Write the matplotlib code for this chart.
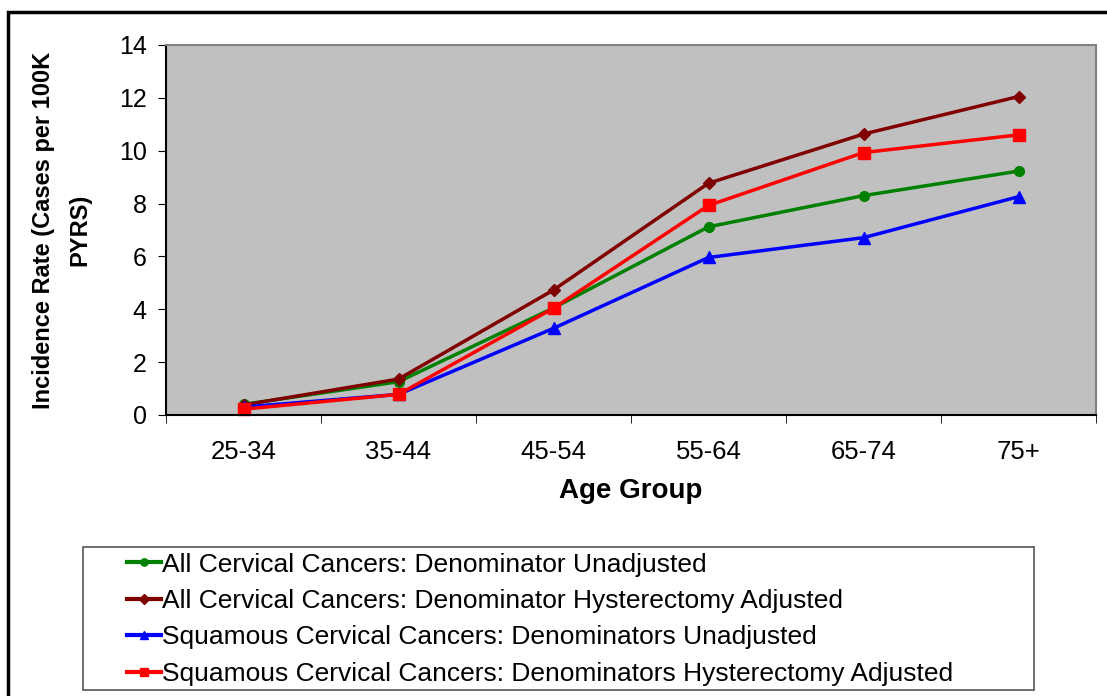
import matplotlib
matplotlib.use("Agg")
import matplotlib.pyplot as plt
import matplotlib.patches as patches
import numpy as np

plt.rcParams["font.family"] = ["Liberation Sans", "DejaVu Sans"]

age_groups = ["25-34", "35-44", "45-54", "55-64", "65-74", "75+"]

all_unadj = [0.40, 1.26, 4.05, 7.12, 8.30, 9.23]
all_hyst_adj = [0.38, 1.36, 4.73, 8.77, 10.63, 12.05]
squam_unadj = [0.30, 0.78, 3.28, 5.96, 6.71, 8.26]
squam_hyst_adj = [0.22, 0.78, 4.04, 7.93, 9.93, 10.60]

series_labels = [
    "All Cervical Cancers: Denominator Unadjusted",
    "All Cervical Cancers: Denominator Hysterectomy Adjusted",
    "Squamous Cervical Cancers: Denominators Unadjusted",
    "Squamous Cervical Cancers: Denominators Hysterectomy Adjusted",
]

W, H = 1107, 696
fig = plt.figure(figsize=(W / 100, H / 100), dpi=100)

# outer frame of the chart object
fig.patches.append(patches.Rectangle((8 / W, -0.05), 1.1, 1 - 12 / H + 0.05,
                                     transform=fig.transFigure, fill=False,
                                     edgecolor="black", linewidth=2.5))

ax = fig.add_axes([166 / W, (H - 415) / H, (1096 - 166) / W, 370 / H])
ax.set_facecolor("#c0c0c0")

x = np.arange(len(age_groups))
styles = [
    (all_unadj, "#008000", "o", 7),
    (all_hyst_adj, "#800000", "D", 6.5),
    (squam_unadj, "#0000ff", "^", 8),
    (squam_hyst_adj, "#ff0000", "s", 8.5),
]
handles = []
for (vals, col, mk, ms), lab in zip(styles, series_labels):
    h, = ax.plot(x, vals, color=col, marker=mk, markersize=ms, linewidth=2.5,
                 label=lab, clip_on=False)
    handles.append(h)

ax.set_xlim(-0.5, len(age_groups) - 0.5)
ax.set_ylim(0, 14)
ax.set_yticks(range(0, 15, 2))
ax.set_xticks(x)
ax.set_xticklabels(age_groups)
ax.set_xticks(np.arange(-0.5, len(age_groups)), minor=True)
ax.tick_params(axis="x", which="major", length=0, pad=18, labelsize=18.5)
ax.tick_params(axis="x", which="minor", length=6, direction="out")
ax.tick_params(axis="y", length=6, labelsize=18, pad=8)

for s in ["top", "right"]:
    ax.spines[s].set_color("#808080")
    ax.spines[s].set_linewidth(1.5)
for s in ["left", "bottom"]:
    ax.spines[s].set_color("black")
    ax.spines[s].set_linewidth(1.5)

ax.set_xlabel("Age Group", fontsize=20, fontweight="bold", labelpad=10)
ax.set_ylabel("Incidence Rate (Cases per 100K\nPYRS)", fontsize=17,
              fontweight="bold", linespacing=1.75)
ax.yaxis.set_label_coords(-0.08, 0.5)

# legend box below the plot
fig.patches.append(patches.Rectangle((83 / W, (H - 690) / H), (1034 - 83) / W, 143 / H,
                                     transform=fig.transFigure, fill=False,
                                     edgecolor="#555555", linewidth=1.2))
leg = fig.legend(handles=handles, loc="upper left",
                 bbox_to_anchor=(116 / W, (H - 542) / H), frameon=False,
                 prop={"size": 19},
                 handlelength=1.3, handletextpad=0.03, labelspacing=0.47,
                 borderaxespad=0, markerscale=0.75)
for ln in leg.get_lines():
    ln.set_linewidth(3)

fig.savefig("out.png", dpi=100)
